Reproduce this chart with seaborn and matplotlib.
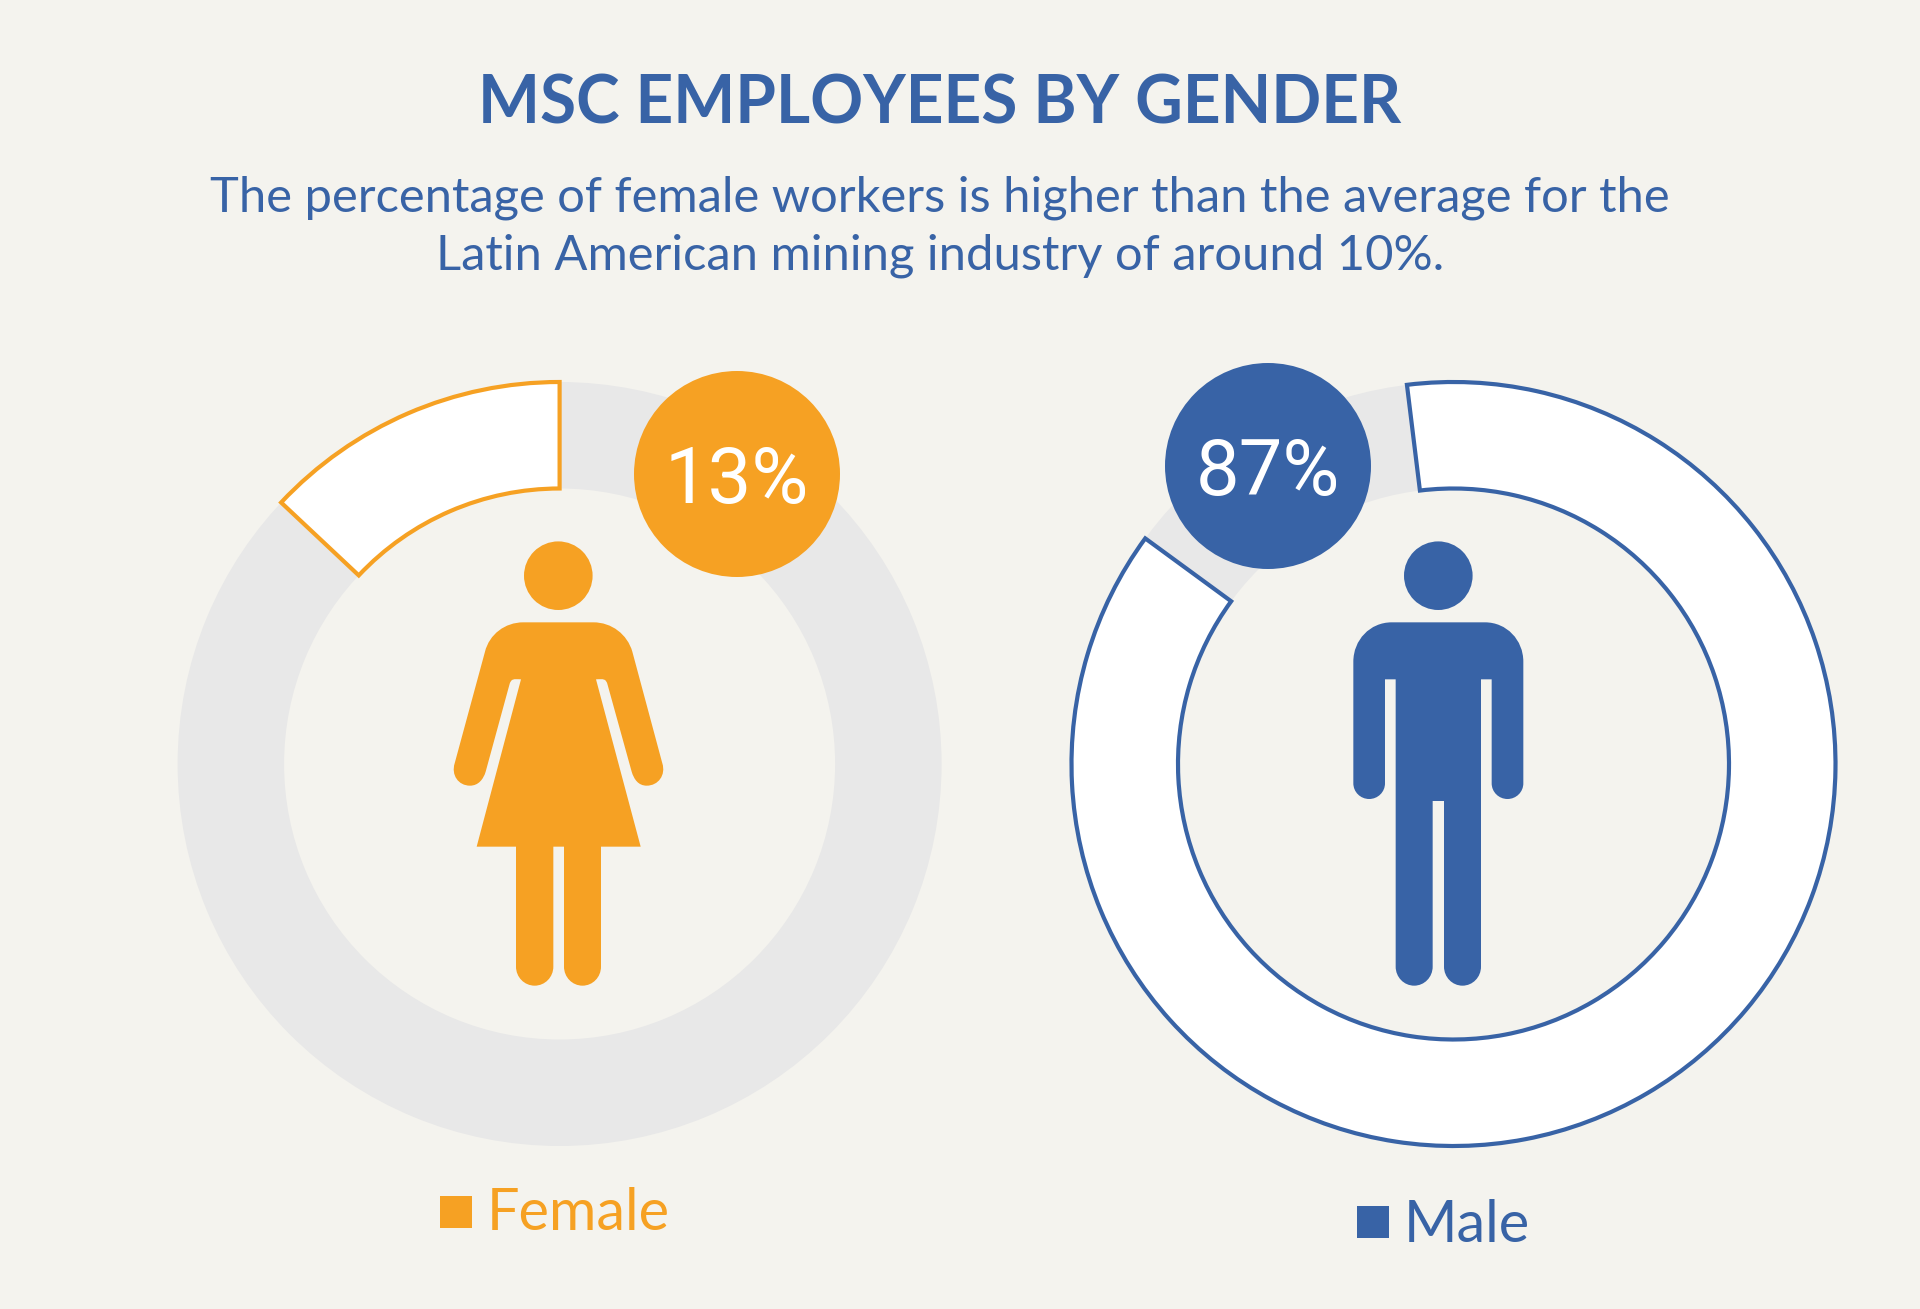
import numpy as np
import matplotlib
matplotlib.use('Agg')
import matplotlib.pyplot as plt
from matplotlib.path import Path
from matplotlib.patches import Circle, PathPatch, Rectangle
import seaborn as sns

# Data
genders = ['Female', 'Male']
shares = [13, 87]
share_labels = ['13%', '87%']
start_angles = [90, 97]
counterclock = [True, False]

title = 'MSC EMPLOYEES BY GENDER'
subtitle = ['The percentage of female workers is higher than the average for the',
            'Latin American mining industry of around 10%.']

W, H = 1920, 1309
BG = '#F4F3EE'
RING = '#E8E8E8'
ORANGE = '#F6A123'
BLUE = '#3863A6'
K = 0.5523


def cap(p0, p1, bulge):
    """Bezier segments for a round cap from p0 to p1, bulging along +y (zoom coords)."""
    (x0, y0), (x1, y1) = p0, p1
    r = (x1 - x0) / 2
    xm = (x0 + x1) / 2
    ym = (y0 + y1) / 2 + bulge
    return [(x0, y0 + K * bulge), (xm - K * r, ym), (xm, ym),
            (xm + K * r, ym), (x1, y1 + K * bulge), (x1, y1)]


def build_path(segs, ox, oy):
    verts, codes = [], []
    for kind, pts in segs:
        if kind == 'M':
            verts += pts
            codes += [Path.MOVETO] * len(pts)
        elif kind == 'L':
            verts += pts
            codes += [Path.LINETO] * len(pts)
        else:
            verts += pts
            codes += [Path.CURVE4] * len(pts)
    verts.append(verts[0])
    codes.append(Path.CLOSEPOLY)
    # the outlines are measured on a 3x crop, top-left origin
    v = np.array(verts, dtype=float) / 3 + [ox, oy]
    v[:, 1] = H - v[:, 1]
    return Path(v, codes)


def female_path():
    segs = [
        ('M', [(310, 367)]),
        ('L', [(520, 367)]),
        ('C', [(575, 367), (622, 403), (637, 455)]),
        ('L', [(727, 790)]),
        ('C', [(738, 825), (715, 857), (680, 857), (655, 857), (642, 838), (635, 815)]),
        ('L', [(563, 555)]),
        ('C', [(558, 535), (550, 537), (528, 538)]),
        ('L', [(662, 1040), (543, 1040), (543, 1400)]),
        ('C', cap((432, 1400), (543, 1400), 57)[::-1][1:] + [(432, 1400)]),
        ('L', [(432, 1040), (400, 1040), (400, 1400)]),
        ('C', cap((288, 1400), (400, 1400), 57)[::-1][1:] + [(288, 1400)]),
        ('L', [(288, 1040), (170, 1040), (303, 538)]),
        ('C', [(281, 537), (273, 535), (268, 555)]),
        ('L', [(197, 815)]),
        ('C', [(190, 838), (175, 857), (150, 857), (115, 857), (93, 825), (104, 790)]),
        ('L', [(195, 455)]),
        ('C', [(208, 403), (255, 367), (310, 367)]),
    ]
    return build_path(segs, 420, 500)


def male_path():
    segs = [
        ('M', [(215, 367)]),
        ('L', [(495, 367)]),
        ('C', [(560, 367), (610, 420), (610, 485)]),
        ('L', [(610, 850)]),
        ('C', cap((515, 850), (610, 850), 47)[::-1][1:] + [(515, 850)]),
        ('L', [(515, 538), (483, 538), (483, 1400)]),
        ('C', cap((372, 1400), (483, 1400), 57)[::-1][1:] + [(372, 1400)]),
        ('L', [(372, 903), (338, 903), (338, 1400)]),
        ('C', cap((227, 1400), (338, 1400), 57)[::-1][1:] + [(227, 1400)]),
        ('L', [(227, 538), (195, 538), (195, 850)]),
        ('C', cap((100, 850), (195, 850), 47)[::-1][1:] + [(100, 850)]),
        ('L', [(100, 485)]),
        ('C', [(100, 420), (150, 367), (215, 367)]),
    ]
    return build_path(segs, 1320, 500)


sns.set_theme(style='white', rc={'figure.facecolor': BG, 'savefig.facecolor': BG})
plt.rcParams['font.family'] = ['Lato', 'DejaVu Sans']

fig = plt.figure(figsize=(W / 100, H / 100), dpi=100)
ax = fig.add_axes([0, 0, 1, 1])

# layout of the two panels, in pixels from the top left
centers = [(559.6, 764), (1453.5, 764)]
colors = [ORANGE, BLUE]
badges = [(737, 474), (1268, 466)]
heads = [(558.3, 575.7), (1438.3, 575.7)]
paths = [female_path(), male_path()]
squares = [(440, 1196), (1357, 1206)]
name_x = [487, 1404]
name_y = [1214, 1225]
OUTER, WIDTH = 382, 106.5

for i, gender in enumerate(genders):
    cx, cy = centers[i]
    c = colors[i]
    ax.pie([100], colors=[RING], center=(cx, H - cy), radius=OUTER, frame=True,
           wedgeprops={'width': WIDTH, 'linewidth': 0})
    wedges, _ = ax.pie([shares[i], 100 - shares[i]], colors=['white', 'none'],
                       center=(cx, H - cy), radius=OUTER, frame=True,
                       startangle=start_angles[i], counterclock=counterclock[i],
                       wedgeprops={'width': WIDTH, 'linewidth': 3, 'edgecolor': c,
                                   'joinstyle': 'miter'})
    wedges[1].set_visible(False)

    bx, by = badges[i]
    ax.add_patch(Circle((bx, H - by), 103, color=c, lw=0, zorder=4))
    ax.text(bx, H - by + 1, share_labels[i], color='white', fontsize=56, ha='center',
            va='center_baseline', family=['Roboto', 'DejaVu Sans'], zorder=5)

    hx, hy = heads[i]
    ax.add_patch(Circle((hx, H - hy), 34.3, color=c, lw=0, zorder=3))
    ax.add_patch(PathPatch(paths[i], facecolor=c, lw=0, zorder=3))

    sx, sy = squares[i]
    ax.add_patch(Rectangle((sx, H - sy - 32), 32, 32, color=c, lw=0))
    ax.text(name_x[i], H - name_y[i], gender, color=c, fontsize=41.5, ha='left', va='center')

ax.text(940, H - 105, title, color=BLUE, fontsize=47.3, fontweight='bold', ha='center', va='center')
ax.text(940, H - 198, subtitle[0], color=BLUE, fontsize=35.2, ha='center', va='center')
ax.text(940, H - 256, subtitle[1], color=BLUE, fontsize=35.2, ha='center', va='center')

ax.set_xlim(0, W)
ax.set_ylim(0, H)
ax.set_aspect('equal')
ax.axis('off')

fig.savefig('out.png', dpi=100)
